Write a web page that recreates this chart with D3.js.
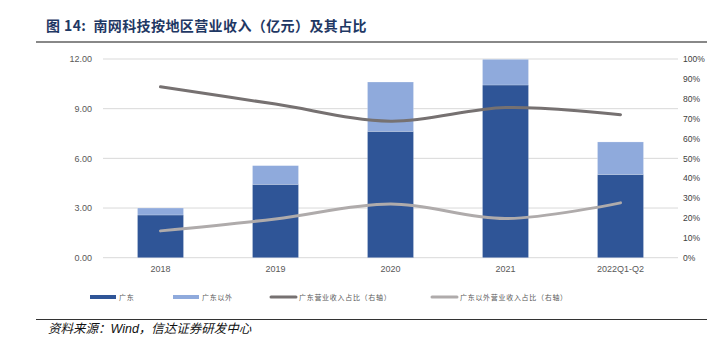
<!DOCTYPE html>
<html><head><meta charset="utf-8">
<script src="https://cdn.jsdelivr.net/npm/d3@7"></script>
<style>
html,body{margin:0;padding:0;background:#fff;}
svg{display:block;}
</style></head>
<body>
<svg id="chart" width="724" height="351"></svg>
<script>
const categories = ["2018", "2019", "2020", "2021", "2022Q1-Q2"];
const guangdong = [2.58, 4.43, 7.63, 10.43, 5.03];
const outsideGuangdong = [0.42, 1.13, 2.98, 1.55, 1.96];
const guangdongShare = [0.86, 0.773, 0.687, 0.756, 0.72];
const outsideShare = [0.135, 0.195, 0.27, 0.197, 0.276];
const leftTicks = [0, 3, 6, 9, 12];
const rightTicks = [0, 0.1, 0.2, 0.3, 0.4, 0.5, 0.6, 0.7, 0.8, 0.9, 1.0];
const legendLabels = ["广东", "广东以外", "广东营业收入占比（右轴）", "广东以外营业收入占比（右轴）"];
const titleText = "图 14:\u00A0\u00A0南网科技按地区营业收入（亿元）及其占比";
const sourceText = "资料来源：Wind，信达证券研发中心";

const svg = d3.select("#chart");
const colors = {gd: "#2F5597", out: "#8FAADC", gdLine: "#767171", outLine: "#AFABAB"};
const font = "'Liberation Sans', Arial, 'Noto Sans CJK SC', sans-serif";
const cjk = "'Noto Sans CJK SC', sans-serif";

const x = d3.scaleBand().domain(categories).range([103, 678]).paddingInner(0.6).paddingOuter(0.3);
const y = d3.scaleLinear().domain([0, 12]).range([257.7, 59]);
const y2 = d3.scaleLinear().domain([0, 1]).range([257.7, 59]);

// title
svg.append("text").attr("x", 46).attr("y", 31)
  .attr("font-family", "'Noto Sans CJK SC', serif").attr("font-weight", "bold")
  .attr("font-size", 14).attr("letter-spacing", 0.4).attr("fill", "#1F3864").text(titleText);
svg.append("line").attr("x1", 36).attr("x2", 707).attr("y1", 42).attr("y2", 42)
  .attr("stroke", "#888").attr("stroke-width", 2);

// gridlines
svg.append("g").selectAll("line").data(leftTicks).join("line")
  .attr("x1", 103).attr("x2", 678).attr("y1", d => y(d)).attr("y2", d => y(d))
  .attr("stroke", "#D9D9D9").attr("stroke-width", 1);

// left axis
const la = svg.append("g").attr("transform", "translate(92,0)")
  .call(d3.axisLeft(y).tickValues(leftTicks).tickFormat(d3.format(".2f")).tickSize(0).tickPadding(0));
la.select(".domain").remove();
la.selectAll("text").attr("font-family", font).attr("font-size", 9).attr("fill", "#595959");

// right axis
const ra = svg.append("g").attr("transform", "translate(683,0)")
  .call(d3.axisRight(y2).tickValues(rightTicks).tickFormat(d3.format(".0%")).tickSize(0).tickPadding(0));
ra.select(".domain").remove();
ra.selectAll("text").attr("font-family", font).attr("font-size", 8.5).attr("fill", "#404040");

// x axis
const xa = svg.append("g").attr("transform", "translate(0,263)")
  .call(d3.axisBottom(x).tickSize(0).tickPadding(3));
xa.select(".domain").remove();
xa.selectAll("text").attr("font-family", font).attr("font-size", 9).attr("fill", "#595959");

// bars
const stackData = categories.map((c, i) => ({c, gd: guangdong[i], out: outsideGuangdong[i]}));
const stack = d3.stack().keys(["gd", "out"])(stackData);
svg.append("g").selectAll("g").data(stack).join("g")
  .attr("fill", d => d.key === "gd" ? colors.gd : colors.out)
  .selectAll("rect").data(d => d).join("rect")
  .attr("x", d => x(d.data.c)).attr("width", x.bandwidth())
  .attr("y", d => y(d[1])).attr("height", d => y(d[0]) - y(d[1]))
  .attr("stroke", "#ffffff").attr("stroke-opacity", 0.35).attr("stroke-width", 0.6);

// lines
const line = d3.line().x((d, i) => x(categories[i]) + x.bandwidth() / 2).y(d => y2(d))
  .curve(d3.curveCatmullRom.alpha(0.5));
svg.append("path").datum(guangdongShare).attr("d", line).attr("fill", "none")
  .attr("stroke", colors.gdLine).attr("stroke-width", 3).attr("stroke-linecap", "round");
svg.append("path").datum(outsideShare).attr("d", line).attr("fill", "none")
  .attr("stroke", colors.outLine).attr("stroke-width", 3).attr("stroke-linecap", "round");

// legend
const legendItems = [
  {label: legendLabels[0], color: colors.gd, type: "bar", x: 90},
  {label: legendLabels[1], color: colors.out, type: "bar", x: 173},
  {label: legendLabels[2], color: colors.gdLine, type: "line", x: 270},
  {label: legendLabels[3], color: colors.outLine, type: "line", x: 431}
];
const lg = svg.append("g");
legendItems.forEach(it => {
  if (it.type === "bar") {
    lg.append("rect").attr("x", it.x).attr("y", 295).attr("width", 26).attr("height", 4).attr("fill", it.color);
  } else {
    lg.append("line").attr("x1", it.x + 1).attr("x2", it.x + 26).attr("y1", 297).attr("y2", 297)
      .attr("stroke", it.color).attr("stroke-width", 3).attr("stroke-linecap", "round");
  }
  lg.append("text").attr("x", it.x + 29).attr("y", 300).attr("font-family", cjk)
    .attr("font-size", 7).attr("letter-spacing", 0.7).attr("fill", "#595959").text(it.label);
});

// source
svg.append("line").attr("x1", 36).attr("x2", 707).attr("y1", 319.5).attr("y2", 319.5)
  .attr("stroke", "#333").attr("stroke-width", 1);
svg.append("text").attr("x", 48).attr("y", 333).attr("font-family", "'Liberation Sans', 'Noto Sans CJK SC', sans-serif")
  .attr("font-style", "italic").attr("font-size", 12.5).attr("fill", "#111").text(sourceText);
</script>
</body></html>
